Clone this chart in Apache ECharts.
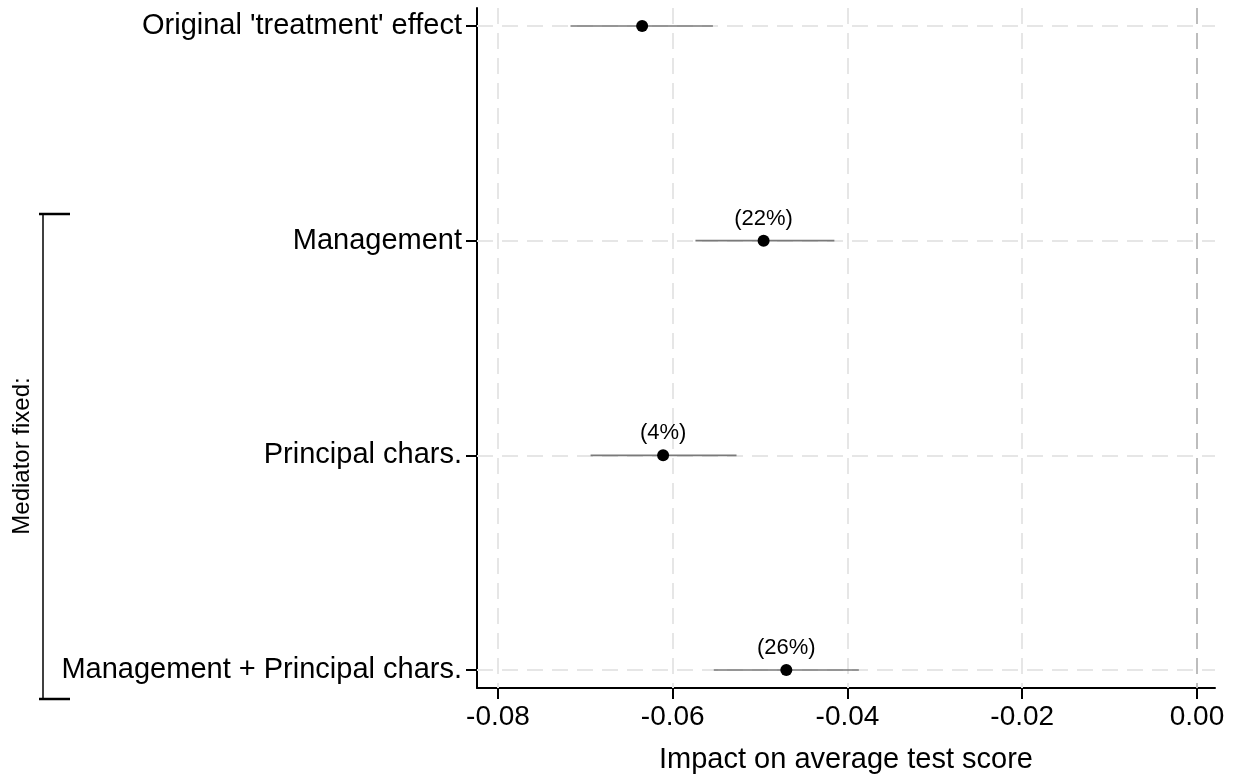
<!DOCTYPE html>
<html>
<head>
<meta charset="utf-8">
<script src="https://cdn.jsdelivr.net/npm/echarts@6/dist/echarts.min.js"></script>
<style>
  html, body { margin: 0; padding: 0; background: #fff; }
  #chart { width: 1236px; height: 779px; }
</style>
</head>
<body>
<div id="chart"></div>
<script>
const categories = [
  "Original 'treatment' effect",
  "Management",
  "Principal chars.",
  "Management + Principal chars.",
];
const estimates = [-0.0635, -0.0496, -0.0611, -0.0470];
const ciLow = [-0.0717, -0.0574, -0.0694, -0.0553];
const ciHigh = [-0.0554, -0.0415, -0.0527, -0.0387];
const shareLabels = ["", "(22%)", "(4%)", "(26%)"];
const xTicks = [-0.08, -0.06, -0.04, -0.02, 0];

const FONT = "Liberation Sans, Arial, sans-serif";
const rows = categories.map((c, i) => i + 1);
const dash = [16, 9];

const chart = echarts.init(document.getElementById("chart"));

chart.setOption({
  animation: false,
  grid: { left: 477, right: 21, top: 8, bottom: 90 },
  xAxis: {
    type: "value",
    min: -0.0824,
    max: 0.00206,
    name: "Impact on average test score",
    nameLocation: "middle",
    nameGap: 57,
    nameTextStyle: { color: "#000", fontSize: 29, fontFamily: FONT },
    axisLine: { show: true, onZero: false, lineStyle: { color: "#000", width: 2 } },
    axisTick: { show: true, length: 11, customValues: xTicks, lineStyle: { color: "#000", width: 2 } },
    axisLabel: {
      customValues: xTicks,
      formatter: (v) => v.toFixed(2),
      color: "#000",
      fontSize: 28,
      fontFamily: FONT,
      margin: 15,
    },
    splitLine: { show: false },
  },
  yAxis: {
    type: "value",
    inverse: true,
    min: 0.9163,
    max: 4.0837,
    axisLine: { show: true, onZero: false, lineStyle: { color: "#000", width: 2 } },
    axisTick: { show: true, length: 11, customValues: rows, lineStyle: { color: "#000", width: 2 } },
    axisLabel: {
      customValues: rows,
      formatter: (v) => categories[Math.round(v) - 1] || "",
      color: "#000",
      fontSize: 29,
      fontFamily: FONT,
      margin: 15,
    },
    splitLine: { show: false },
  },
  series: [
    {
      type: "line",
      data: [],
      z: 1,
      markLine: {
        silent: true,
        z: 1,
        symbol: "none",
        label: { show: false },
        data: [
          ...rows.map((r) => ({ yAxis: r, lineStyle: { color: "#e6e6e6", width: 2, type: dash } })),
          ...xTicks.map((t) => ({
            xAxis: t,
            lineStyle: { color: t === 0 ? "#bdbdbd" : "#e6e6e6", width: 2, type: dash },
          })),
        ],
      },
    },
    {
      type: "custom",
      z: 10,
      data: rows.map((r, i) => [ciLow[i], ciHigh[i], r]),
      renderItem: (params, api) => {
        const a = api.coord([api.value(0), api.value(2)]);
        const b = api.coord([api.value(1), api.value(2)]);
        return {
          type: "line",
          shape: { x1: a[0], y1: a[1], x2: b[0], y2: b[1] },
          style: { stroke: "#7a7a7a", lineWidth: 1.6 },
        };
      },
    },
    {
      type: "scatter",
      z: 11,
      symbol: "circle",
      symbolSize: 12,
      itemStyle: { color: "#000", opacity: 1 },
      data: rows.map((r, i) => ({
        value: [estimates[i], r],
        label: {
          show: shareLabels[i] !== "",
          formatter: shareLabels[i],
          position: "top",
          distance: 5,
          color: "#000",
          fontSize: 22,
          fontFamily: FONT,
        },
      })),
    },
  ],
  graphic: [
    { type: "line", shape: { x1: 43, y1: 214, x2: 43, y2: 699 }, style: { stroke: "#000", lineWidth: 1.5 } },
    { type: "line", shape: { x1: 39, y1: 214, x2: 70, y2: 214 }, style: { stroke: "#000", lineWidth: 2.5 } },
    { type: "line", shape: { x1: 39, y1: 699, x2: 70, y2: 699 }, style: { stroke: "#000", lineWidth: 2.5 } },
    {
      type: "text",
      x: 22,
      y: 456,
      rotation: Math.PI / 2,
      style: {
        text: "Mediator fixed:",
        fill: "#000",
        fontSize: 24,
        fontFamily: FONT,
        align: "center",
        verticalAlign: "middle",
      },
    },
  ],
});
</script>
</body>
</html>
